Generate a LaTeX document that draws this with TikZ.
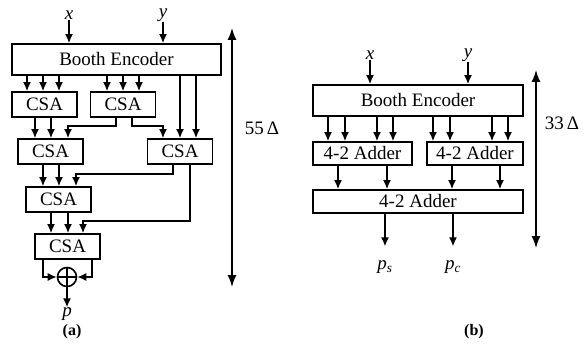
\documentclass[tikz,border=0pt]{standalone}
\usepackage{fontspec}
\setmainfont{Liberation Serif}
\usetikzlibrary{arrows.meta,positioning,calc}
\tikzset{blk/.style={draw,line width=1.8pt,inner sep=0pt,font=\fontsize{19}{22}\selectfont},csa/.style={blk,minimum width=65,minimum height=25},add/.style={blk,minimum height=23},arr/.style={-{Latex[length=9pt,width=8pt]},line width=1.4pt},dim/.style={{Latex[length=12pt,width=9pt]}-{Latex[length=12pt,width=9pt]},line width=1.4pt},lbl/.style={font=\fontsize{19}{22}\selectfont,inner sep=0pt},subcap/.style={font=\fontsize{16}{18}\selectfont\bfseries,inner sep=0pt}}

\begin{document}
\begin{tikzpicture}[x=1pt,y=-1pt]
\useasboundingbox (0,0) rectangle (584,345);
% (a) CSA tree
\node[blk,minimum width=209,minimum height=31] (bea) at (116.5,59.5) {Booth Encoder};
\node[lbl] (xa) at (69,15) {\textit{x}};
\node[lbl] (ya) at (163,15) {\textit{y}};
\node[csa] (csa1) at (44.5,104.5) {CSA};
\node[csa] (csa2) at (123,104.5) {CSA};
\node[csa] (csa3) at (50.5,151.5) {CSA};
\node[csa] (csa4) at (180,151.5) {CSA};
\node[csa] (csa5) at (58.5,199.5) {CSA};
\node[csa] (csa6) at (67.5,246.5) {CSA};
\node[draw,circle,line width=1.6pt,minimum size=19,inner sep=0pt] (sum) at (67,277) {};
\draw[line width=1.4pt] (sum.north) -- (sum.south) (sum.west) -- (sum.east);
\node[lbl] (pa) at (67,314) {\textit{p}};
\draw[arr] (xa.south) -- (bea.north -| xa.south);
\draw[arr] (ya.south) -- (bea.north -| ya.south);
\foreach \i in {27,43,59} \draw[arr] (bea.south -| \i,0) -- (csa1.north -| \i,0);
\foreach \i in {107,123,139} \draw[arr] (bea.south -| \i,0) -- (csa2.north -| \i,0);
\foreach \i in {180,196} \draw[arr] (bea.south -| \i,0) -- (csa4.north -| \i,0);
\foreach \i in {35,51} \draw[arr] (csa1.south -| \i,0) -- (csa3.north -| \i,0);
\draw[arr] (csa2.south -| 116,0) -- ++(0,8) -| (csa3.north -| 68,0);
\draw[arr] (csa2.south -| 132,0) -- ++(0,8) -| (csa4.north -| 163,0);
\foreach \i in {43,59} \draw[arr] (csa3.south -| \i,0) -- (csa5.north -| \i,0);
\draw[arr] (csa4.south -| 173,0) -- ++(0,9) -| (csa5.north -| 76,0);
\draw[arr] (csa4.south -| 190,0) -- ++(0,56) -| (csa6.north -| 83,0);
\foreach \i in {51,68} \draw[arr] (csa5.south -| \i,0) -- (csa6.north -| \i,0);
\draw[arr] (csa6.south -| 43,0) |- (sum.west);
\draw[arr] (csa6.south -| 92,0) |- (sum.east);
\draw[arr] (sum.south) -- (pa.north);
\coordinate (dta) at (232,28);
\coordinate (dba) at (232,287);
\draw[dim] (dta) -- (dba);
\node[lbl] (da) at (262,128) {55\,Δ};
\node[subcap] (capa) at (72,332) {(a)};
% (b) 4-2 adder tree
\node[blk,minimum width=210,minimum height=31] (beb) at (418,100.5) {Booth Encoder};
\node[lbl] (xb) at (370,55) {\textit{x}};
\node[lbl] (yb) at (468,55) {\textit{y}};
\node[add,minimum width=99] (ad1) at (362.5,153.5) {4-2 Adder};
\node[add,minimum width=96] (ad2) at (475,153.5) {4-2 Adder};
\node[add,minimum width=210] (ad3) at (418,201.5) {4-2 Adder};
\node[lbl] (ps) at (385,267) {\textit{p}\textsubscript{\textit{s}}};
\node[lbl] (pc) at (453,267) {\textit{p}\textsubscript{\textit{c}}};
\draw[arr] (xb.south) -- (beb.north -| xb.south);
\draw[arr] (yb.south) -- (beb.north -| yb.south);
\foreach \i in {328,345,377,393} \draw[arr] (beb.south -| \i,0) -- (ad1.north -| \i,0);
\foreach \i in {433,450,492,508} \draw[arr] (beb.south -| \i,0) -- (ad2.north -| \i,0);
\foreach \i in {338,387} \draw[arr] (ad1.south -| \i,0) -- (ad3.north -| \i,0);
\foreach \i in {452,500} \draw[arr] (ad2.south -| \i,0) -- (ad3.north -| \i,0);
\draw[arr,shorten >=14pt] (ad3.south -| 385,0) -- (ps.north -| 385,0);
\draw[arr,shorten >=14pt] (ad3.south -| 453,0) -- (pc.north -| 453,0);
\coordinate (dtb) at (536,70);
\coordinate (dbb) at (536,248);
\draw[dim] (dtb) -- (dbb);
\node[lbl] (db) at (562,123) {33\,Δ};
\node[subcap] (capb) at (474,332) {(b)};
\end{tikzpicture}
\end{document}
